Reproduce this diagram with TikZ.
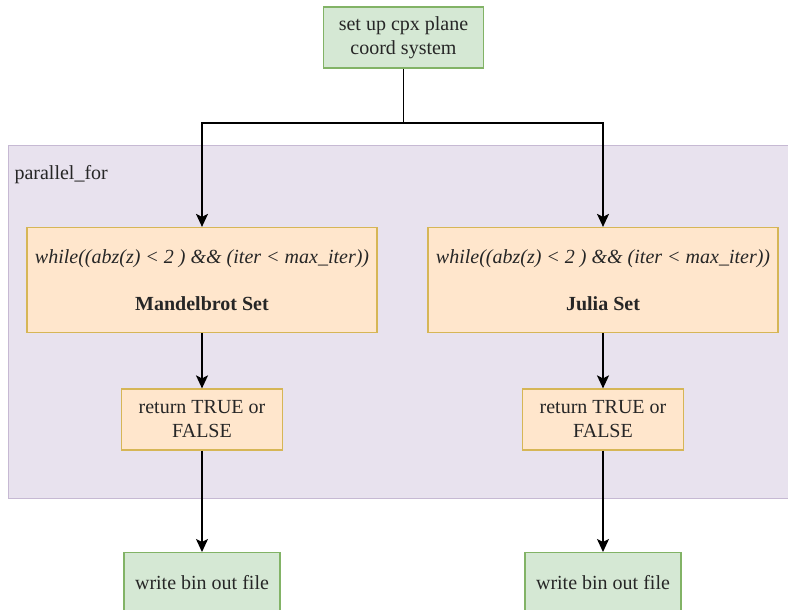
\documentclass[tikz,border=0pt]{standalone}
\usepackage{fontspec}
\setmainfont{Liberation Serif}
\usetikzlibrary{arrows.meta}
\definecolor{greenfill}{HTML}{D5E8D4}
\definecolor{greenline}{HTML}{82B366}
\definecolor{orangefill}{HTML}{FFE6CC}
\definecolor{orangeline}{HTML}{D6B656}
\definecolor{purplefill}{HTML}{E8E2EE}
\definecolor{purpleline}{HTML}{C6B9D3}
\begin{document}
\begin{tikzpicture}[x=1pt,y=-1pt,
  every node/.style={font=\fontsize{20}{24}\selectfont, text=black!85},
  greenbox/.style={draw=greenline, fill=greenfill, line width=1.2pt, align=center, inner sep=0pt},
  orangebox/.style={draw=orangeline, fill=orangefill, line width=1.2pt, align=center, inner sep=0pt},
  link/.style={-{Stealth[length=13pt,width=12pt,inset=3pt]}, line width=1.6pt}]
  \useasboundingbox (0,0) rectangle (788,610);
  % Container
  \draw[draw=purpleline, fill=purplefill, line width=1pt] (8,145) rectangle (800,498);
  \node[anchor=west] (par) at (11,175) {parallel\_for};
  % Top box
  \node[greenbox, minimum width=160, minimum height=61] (setup) at (403.5,37.5)
    {set up cpx plane\\coord system};
  % Set boxes
  \node[orangebox, minimum width=350, minimum height=105] (mandel) at (202,280)
    {\textit{while((abz(z) < 2 ) \&\& (iter < max\_iter))}\\[23pt]\textbf{Mandelbrot Set}};
  \node[orangebox, minimum width=350, minimum height=105] (julia) at (603,280)
    {\textit{while((abz(z) < 2 ) \&\& (iter < max\_iter))}\\[23pt]\textbf{Julia Set}};
  % Return boxes
  \node[orangebox, minimum width=161, minimum height=61] (retm) at (202,419.5)
    {return TRUE or\\FALSE};
  \node[orangebox, minimum width=161, minimum height=61] (retj) at (603,419.5)
    {return TRUE or\\FALSE};
  % Output boxes
  \node[greenbox, minimum width=156, minimum height=60, anchor=north] (outm) at (202,552)
    {write bin out file};
  \node[greenbox, minimum width=156, minimum height=60, anchor=north] (outj) at (603,552)
    {write bin out file};
  % Arrows
  \coordinate (split) at (403.5,123);
  \draw[line width=1.6pt] (setup.south) -- (split);
  \draw[link] (split) -| (mandel.north);
  \draw[link] (split) -| (julia.north);
  \draw[link] (mandel.south) -- (retm.north);
  \draw[link] (julia.south) -- (retj.north);
  \draw[link] (retm.south) -- (outm.north);
  \draw[link] (retj.south) -- (outj.north);
\end{tikzpicture}
\end{document}
